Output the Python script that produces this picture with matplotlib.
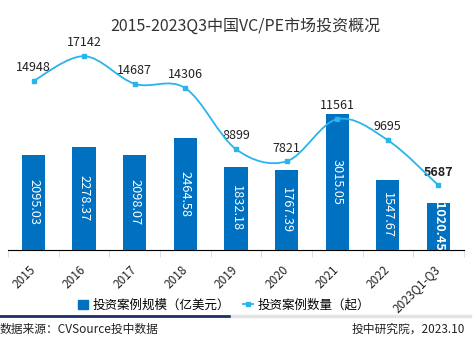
import numpy as np
import matplotlib
matplotlib.use('Agg')
import matplotlib.pyplot as plt
from matplotlib.path import Path
from matplotlib.patches import PathPatch
from matplotlib.lines import Line2D

plt.rcParams['font.family'] = ['Noto Sans CJK SC', 'DejaVu Sans']

years = ['2015', '2016', '2017', '2018', '2019', '2020', '2021', '2022', '2023Q1-Q3']
amount = [2095.03, 2278.37, 2098.07, 2464.58, 1832.18, 1767.39, 3015.05, 1547.67, 1020.45]
count = [14948, 17142, 14687, 14306, 8899, 7821, 11561, 9695, 5687]

bar_c = '#0070c0'
line_c = '#29b4ec'

fig = plt.figure(figsize=(4.77, 3.57), dpi=100)
ax = fig.add_axes([0.0172, 0.3011, 0.955, 0.5686])
ax2 = ax.twinx()

x = np.arange(len(years))
ax.bar(x, amount, width=0.46, color=bar_c, zorder=2)
ax.set_ylim(0, 4500)
ax.set_xlim(-0.5, len(years) - 0.5)
ax2.set_ylim(0, 18000)

for i, v in enumerate(amount):
    bold = i == len(amount) - 1
    ax.text(i, v / 2, f'{v:.2f}', rotation=270, color='white', ha='center', va='center',
            fontsize=9.2, fontweight='bold' if bold else 'normal', zorder=3)

# smoothed line (catmull-rom as cubic bezier through the points)
pts = np.column_stack([x, count]).astype(float)
verts = [pts[0]]
codes = [Path.MOVETO]
for i in range(len(pts) - 1):
    p0 = pts[i - 1] if i > 0 else pts[i]
    p1, p2 = pts[i], pts[i + 1]
    p3 = pts[i + 2] if i + 2 < len(pts) else pts[i + 1]
    c1 = p1 + (p2 - p0) / 6
    c2 = p2 - (p3 - p1) / 6
    verts += [c1, c2, p2]
    codes += [Path.CURVE4] * 3
ax2.add_patch(PathPatch(Path(verts, codes), fill=False, edgecolor=line_c, lw=1.3,
                        clip_on=False, zorder=4))
ax2.plot(x, count, ls='none', marker='s', ms=2.2, color=line_c, clip_on=False, zorder=5)

for i, v in enumerate(count):
    bold = i == len(count) - 1
    ax2.annotate(str(v), (i, v), xytext=(0, 9.5), textcoords='offset points',
                 ha='center', va='center', fontsize=9, color='#222222',
                 fontweight='bold' if bold else 'normal', annotation_clip=False)

for a in (ax, ax2):
    for s in ('left', 'right', 'top'):
        a.spines[s].set_visible(False)
    a.set_yticks([])
ax.spines['bottom'].set_color('#d9d9d9')
ax.set_xticks(x)
ax.set_xticklabels(years, rotation=45, ha='right', va='center', rotation_mode='anchor',
                   fontsize=8.5, color='#222222')
ax.tick_params(axis='x', which='major', length=0, pad=13)
ax.set_xticks(np.arange(-0.5, len(years)), minor=True)
ax.tick_params(axis='x', which='minor', length=5, color='#d9d9d9')

fig.text(0.514, 0.925, '2015-2023Q3中国VC/PE市场投资概况', ha='center', va='center',
         fontsize=11.5, color='#333333')

handles = [plt.Rectangle((0, 0), 1, 1, color=bar_c),
           Line2D([], [], color=line_c, marker='s', ms=2.2, lw=1.3)]
fig.legend(handles, ['投资案例规模（亿美元）', '投资案例数量（起）'], loc='center',
           bbox_to_anchor=(0.47, 0.145), ncol=2, frameon=False, fontsize=9,
           handlelength=0.8, handleheight=0.8, handletextpad=0.4, columnspacing=1.0)

fig.add_artist(Line2D([0, 0.487], [0.115, 0.115], color='#1f2d6b', lw=2))
fig.add_artist(Line2D([0.487, 0.985], [0.115, 0.115], color='#e4e4e4', lw=2.5))

fig.text(0.0, 0.078, '数据来源：CVSource投中数据', ha='left', va='center', fontsize=8.5,
         color='#222222')
fig.text(0.975, 0.078, '投中研究院，2023.10', ha='right', va='center', fontsize=8.5,
         color='#222222')

fig.savefig('out.png', dpi=100)
